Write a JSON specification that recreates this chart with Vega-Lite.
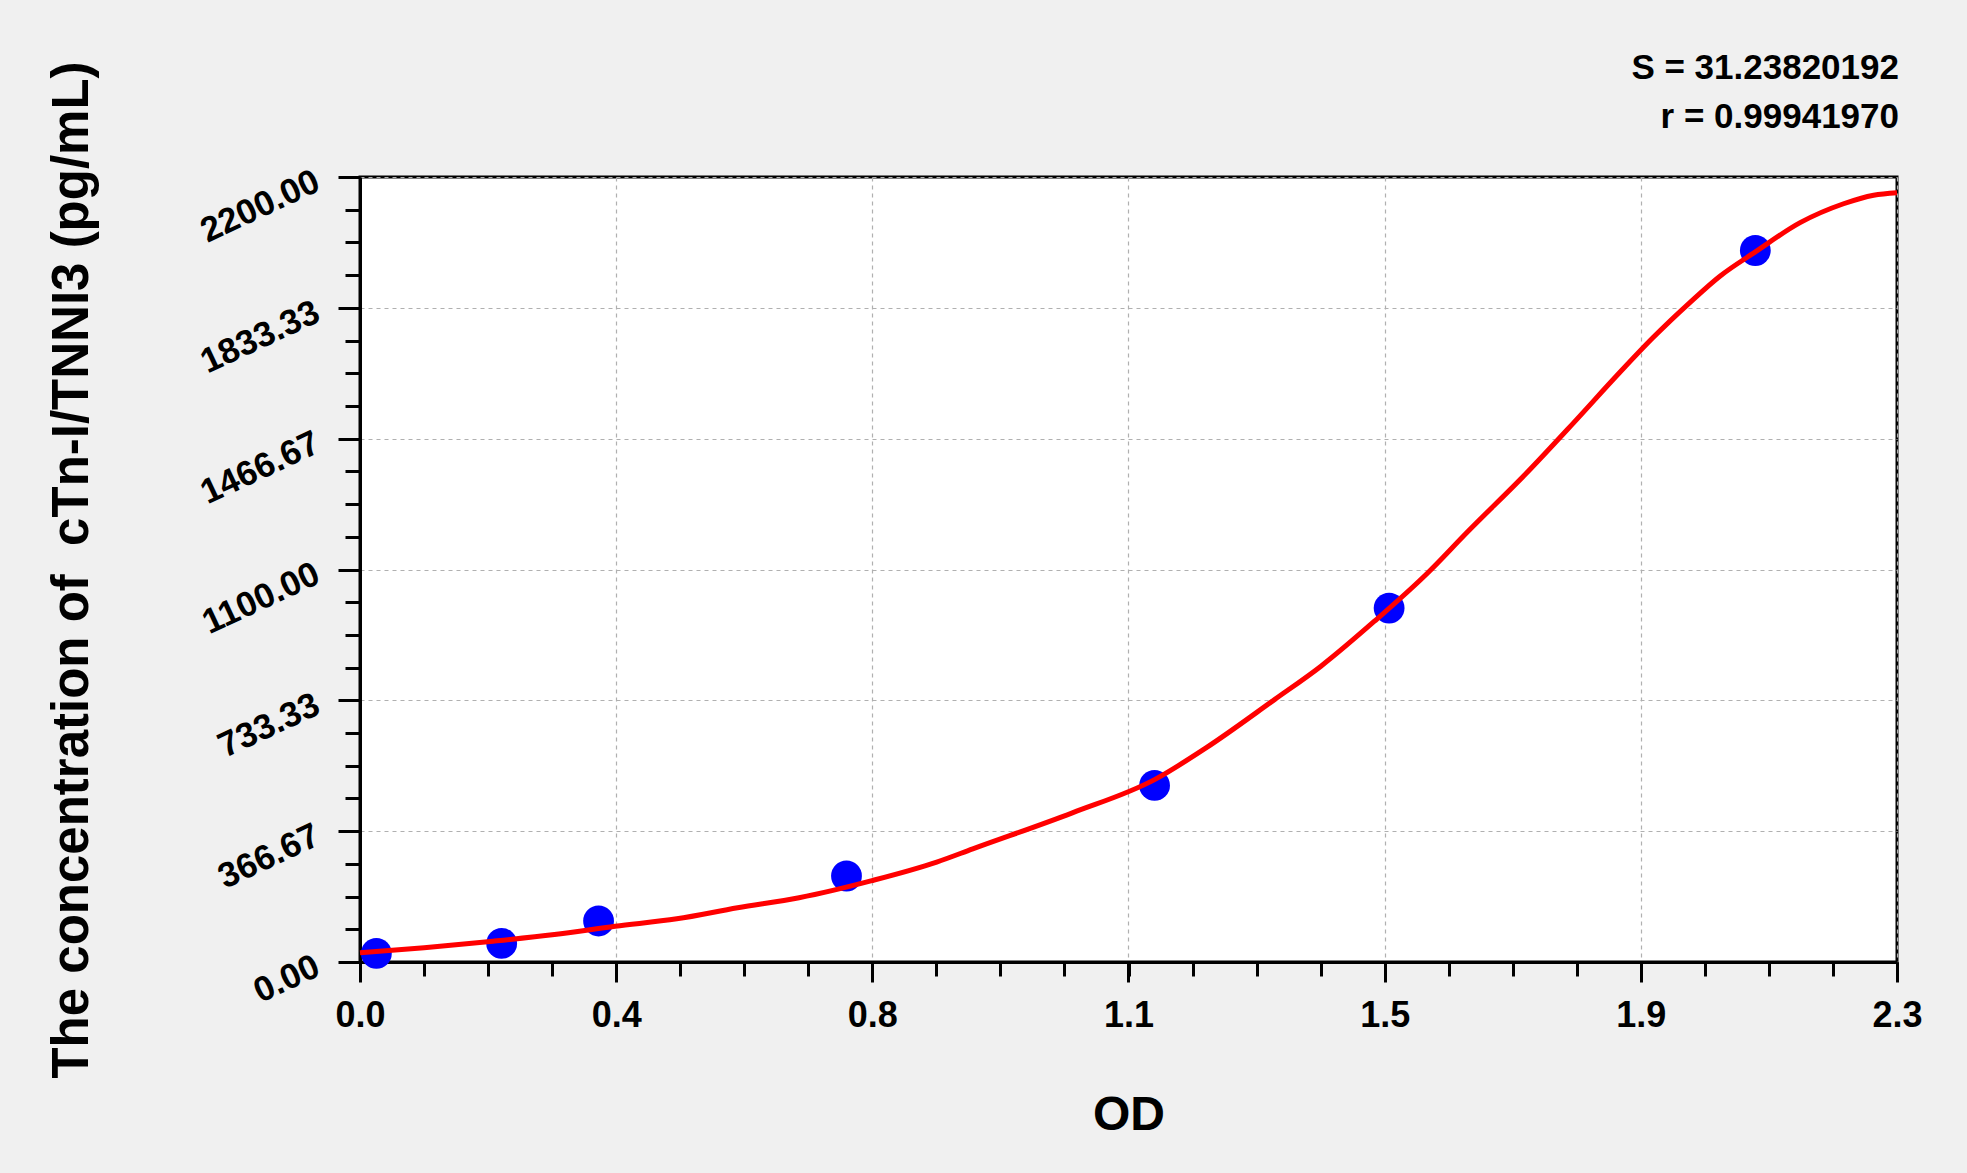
{
  "$schema": "https://vega.github.io/schema/vega-lite/v6.json",
  "width": 1537,
  "height": 785,
  "autosize": {"type": "none"},
  "padding": {"left": 360, "top": 177, "right": 70, "bottom": 211},
  "background": "#f0f0f0",
  "config": {
    "font": "Liberation Sans",
    "view": {"fill": "white", "stroke": "black", "strokeWidth": 3}
  },
  "title": {
    "text": ["S = 31.23820192", "r = 0.99941970"],
    "anchor": "end",
    "frame": "group",
    "fontSize": 35,
    "fontWeight": "bold",
    "lineHeight": 49,
    "offset": 38,
    "dx": 2,
    "dy": 112,
    "color": "black"
  },
  "datasets": {
    "standards": [
      {"od": 0.0245, "conc": 24},
      {"od": 0.212, "conc": 52},
      {"od": 0.357, "conc": 115},
      {"od": 0.728, "conc": 241},
      {"od": 1.189, "conc": 495},
      {"od": 1.540, "conc": 992},
      {"od": 2.088, "conc": 1994}
    ],
    "curve": [
      {"od": 0.0, "conc": 25.8},
      {"od": 0.096, "conc": 39.8},
      {"od": 0.199, "conc": 58.3},
      {"od": 0.291, "conc": 77},
      {"od": 0.382, "conc": 100},
      {"od": 0.474, "conc": 121},
      {"od": 0.565, "conc": 152},
      {"od": 0.657, "conc": 180},
      {"od": 0.766, "conc": 228},
      {"od": 0.863, "conc": 280},
      {"od": 0.917, "conc": 317},
      {"od": 1.066, "conc": 418},
      {"od": 1.189, "conc": 511},
      {"od": 1.266, "conc": 600},
      {"od": 1.369, "conc": 736},
      {"od": 1.438, "conc": 829},
      {"od": 1.518, "conc": 955},
      {"od": 1.598, "conc": 1091},
      {"od": 1.656, "conc": 1203},
      {"od": 1.746, "conc": 1371},
      {"od": 1.816, "conc": 1511},
      {"od": 1.885, "conc": 1652},
      {"od": 1.935, "conc": 1750},
      {"od": 1.990, "conc": 1848},
      {"od": 2.035, "conc": 1922},
      {"od": 2.088, "conc": 1990},
      {"od": 2.155, "conc": 2072},
      {"od": 2.220, "conc": 2125},
      {"od": 2.265, "conc": 2149},
      {"od": 2.300, "conc": 2156}
    ]
  },
  "layer": [
    {
      "data": {"name": "standards"},
      "mark": {"type": "point", "filled": true, "color": "#0000ff", "size": 950, "opacity": 1},
      "encoding": {
        "x": {
          "field": "od",
          "type": "quantitative",
          "scale": {"domain": [0, 2.3], "nice": false, "zero": false},
          "axis": {
            "orient": "bottom",
            "values": [0, 0.383333, 0.766667, 1.1499999, 1.533333, 1.916667, 2.3],
            "format": ".1f",
            "title": "OD",
            "titleFontSize": 48,
            "titleFontWeight": "bold",
            "titleColor": "black",
            "titlePadding": 58,
            "labelFontSize": 36,
            "labelFontWeight": "bold",
            "labelColor": "black",
            "labelPadding": 16,
            "labelFlush": false,
            "labelOverlap": false,
            "tickSize": 20,
            "tickWidth": 3,
            "tickColor": "black",
            "domainColor": "black",
            "domainWidth": 3,
            "grid": true,
            "gridColor": "#b0b0b0",
            "gridDash": [4, 4],
            "gridWidth": 1.2
          }
        },
        "y": {
          "field": "conc",
          "type": "quantitative",
          "scale": {"domain": [0, 2200], "nice": false, "zero": false},
          "axis": {
            "orient": "left",
            "values": [0, 366.667, 733.333, 1100, 1466.667, 1833.333, 2200],
            "format": ".2f",
            "title": "The concentration of \u00a0cTn-I/TNNI3 (pg/mL)",
            "titleFontSize": 51,
            "titleFontWeight": "bold",
            "titleColor": "black",
            "titlePadding": 97,
            "labelFontSize": 35,
            "labelFontWeight": "bold",
            "labelColor": "black",
            "labelAngle": -25,
            "labelAlign": "right",
            "labelBaseline": "middle",
            "labelOffset": 2,
            "labelPadding": 21,
            "labelFlush": false,
            "labelOverlap": false,
            "tickSize": 22,
            "tickWidth": 3,
            "tickColor": "black",
            "domainColor": "black",
            "domainWidth": 3,
            "grid": true,
            "gridColor": "#b0b0b0",
            "gridDash": [4, 4],
            "gridWidth": 1.2
          }
        }
      }
    },
    {
      "data": {"name": "curve"},
      "mark": {"type": "line", "color": "#ff0000", "strokeWidth": 5, "interpolate": "monotone"},
      "encoding": {
        "x": {
          "field": "od",
          "type": "quantitative",
          "axis": {
            "orient": "bottom",
            "values": [0, 0.095833, 0.191667, 0.2875, 0.383333, 0.479167, 0.575, 0.670833, 0.766667, 0.8625, 0.958333, 1.054167, 1.15, 1.245833, 1.341667, 1.4375, 1.533333, 1.629167, 1.725, 1.820833, 1.916667, 2.0125, 2.108333, 2.204167, 2.3],
            "labels": false,
            "title": null,
            "domain": false,
            "grid": false,
            "tickSize": 14,
            "tickWidth": 3,
            "tickColor": "black"
          }
        },
        "y": {
          "field": "conc",
          "type": "quantitative",
          "axis": {
            "orient": "left",
            "values": [0, 91.667, 183.333, 275, 366.667, 458.333, 550, 641.667, 733.333, 825, 916.667, 1008.333, 1100, 1191.667, 1283.333, 1375, 1466.667, 1558.333, 1650, 1741.667, 1833.333, 1925, 2016.667, 2108.333, 2200],
            "labels": false,
            "title": null,
            "domain": false,
            "grid": false,
            "tickSize": 15,
            "tickWidth": 3,
            "tickColor": "black"
          }
        }
      }
    }
  ],
  "resolve": {"axis": {"x": "independent", "y": "independent"}}
}
